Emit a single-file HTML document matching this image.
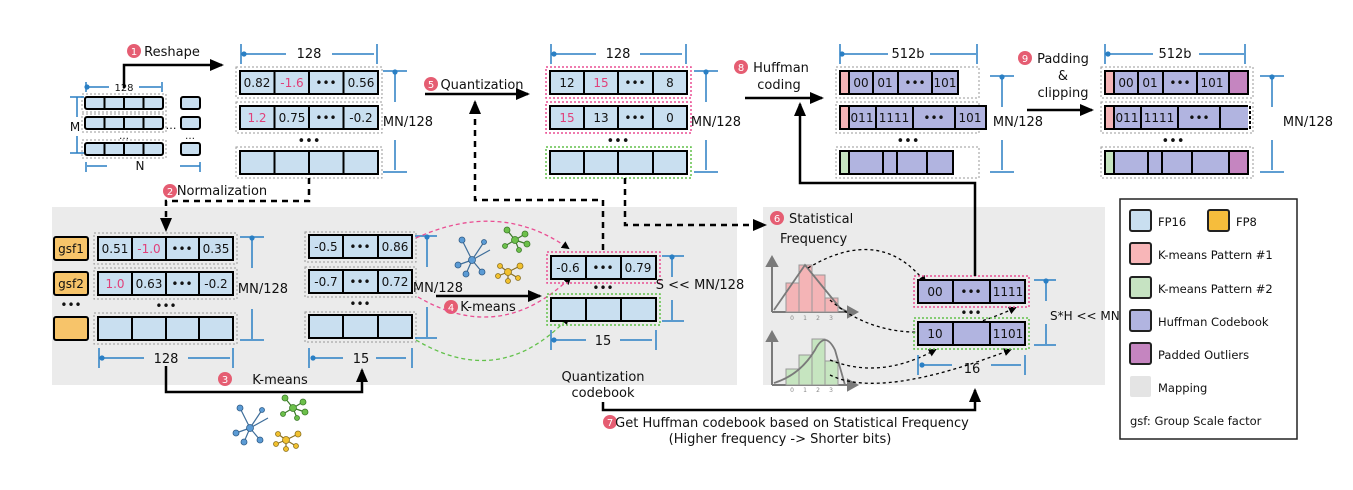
<!DOCTYPE html>
<html><head><meta charset="utf-8"><style>
html,body{margin:0;padding:0;background:#fff;}
svg{display:block;font-family:"DejaVu Sans","Liberation Sans",sans-serif;}
</style></head><body>
<svg width="1353" height="490" viewBox="0 0 1353 490" xmlns="http://www.w3.org/2000/svg">
<defs>
<marker id="ab" markerWidth="8" markerHeight="8" refX="6" refY="4" orient="auto" markerUnits="userSpaceOnUse"><path d="M0,0 L8,4 L0,8 z" fill="#000"/></marker>
<marker id="abs" markerWidth="14" markerHeight="12" refX="12" refY="6" orient="auto" markerUnits="userSpaceOnUse"><path d="M0,0 L14,6 L0,12 z" fill="#000"/></marker>
<marker id="dot" markerWidth="6" markerHeight="6" refX="3" refY="3" markerUnits="userSpaceOnUse"><circle cx="3" cy="3" r="2.6" fill="#2a7fc4"/></marker>
</defs>
<!-- panels -->
<rect x="52" y="207" width="685" height="178" fill="#ebebeb"/>
<rect x="763" y="207" width="342" height="178" fill="#ebebeb"/>

<g font-size="12" text-anchor="middle" fill="#111">
<!-- ===== small matrix ===== -->
<g stroke="#000" stroke-width="2" fill="#c9dff0">
<rect x="85" y="97" width="78" height="12" rx="2"/><rect x="85" y="117" width="78" height="12" rx="2"/><rect x="85" y="143" width="78" height="12" rx="2"/>
<rect x="181" y="97" width="19" height="12" rx="2"/><rect x="181" y="117" width="19" height="12" rx="2"/><rect x="181" y="143" width="19" height="12" rx="2"/>
<path d="M104.5,97v12M124,97v12M143.5,97v12M104.5,117v12M124,117v12M143.5,117v12M104.5,143v12M124,143v12M143.5,143v12" fill="none"/>
</g>
<g fill="none" stroke="#999" stroke-dasharray="2,2"><rect x="82" y="94" width="84" height="18"/><rect x="82" y="114" width="84" height="18"/><rect x="82" y="140" width="84" height="18"/></g>
<text x="124" y="91" font-size="10">128</text>
<g stroke="#2a7fc4" stroke-width="1.5"><path d="M87,87h22M139,87h22M86,82v10M162,82v10M70,97h14M70,153h14M77,97v20M77,136v17M87,166h20M180,166h20M86,162v10M200,162v10" fill="none" marker-start="url(#dot)"/></g>
<text x="75" y="131" font-size="12">M</text><text x="140" y="170" font-size="12">N</text>
<text x="171" y="129" font-size="11">…</text><text x="124" y="139" font-size="10">…</text><text x="190" y="139" font-size="10">…</text>

<!-- Reshape arrow -->
<path d="M124,88V65H222" fill="none" stroke="#000" stroke-width="2.5" marker-end="url(#abs)"/>
<circle cx="134" cy="51" r="7" fill="#e55d72"/><text x="134" y="55" font-size="10" fill="#fff">1</text>
<text x="172" y="56" font-size="13">Reshape</text>

<!-- ===== reshape rows ===== -->
<g fill="none" stroke="#999" stroke-dasharray="2,2"><rect x="236" y="67" width="146" height="31"/><rect x="236" y="102" width="146" height="31"/><rect x="236" y="147" width="146" height="31"/></g>
<g stroke="#000" stroke-width="2" fill="#c9dff0">
<rect x="240" y="71" width="138" height="23"/><rect x="240" y="106" width="138" height="23"/><rect x="240" y="151" width="138" height="23"/>
<path d="M274.5,71v23M309,71v23M343.5,71v23M274.5,106v23M309,106v23M343.5,106v23M274.5,151v23M309,151v23M343.5,151v23" fill="none"/>
</g>
<text x="257" y="87">0.82</text><text x="292" y="87" fill="#e0407a">-1.6</text><text x="326" y="87">•••</text><text x="361" y="87">0.56</text>
<text x="257" y="122" fill="#e0407a">1.2</text><text x="292" y="122">0.75</text><text x="326" y="122">•••</text><text x="361" y="122">-0.2</text>
<text x="309" y="145" font-size="13">•••</text>
<text x="309" y="58" font-size="13">128</text>
<g stroke="#2a7fc4" stroke-width="1.5" fill="none"><path d="M244,54h42M332,54h42" marker-start="url(#dot)"/><path d="M241,44v20M377,44v20M383,71h24M383,172h24"/><path d="M395,72v30M395,170v-30" marker-start="url(#dot)"/></g>
<text x="408" y="126" font-size="13">MN/128</text>

<!-- Normalization dashed -->
<path d="M309,178V201H166V230" fill="none" stroke="#000" stroke-width="2.5" stroke-dasharray="6,5" marker-end="url(#abs)"/>
<circle cx="170" cy="191" r="7" fill="#e55d72"/><text x="170" y="195" font-size="10" fill="#fff">2</text>
<text x="222" y="195" font-size="13">Normalization</text>

<!-- ===== gsf + normalized ===== -->
<g stroke="#000" stroke-width="2" fill="#f7c46a"><rect x="54" y="237" width="34" height="23" rx="2"/><rect x="54" y="272" width="34" height="23" rx="2"/><rect x="54" y="317" width="34" height="23" rx="2"/></g>
<text x="71" y="253">gsf1</text><text x="71" y="288">gsf2</text><text x="71" y="309" font-size="12">•••</text>
<g fill="none" stroke="#999" stroke-dasharray="2,2"><rect x="94" y="233" width="143" height="31"/><rect x="94" y="268" width="143" height="31"/><rect x="94" y="313" width="143" height="31"/></g>
<g stroke="#000" stroke-width="2" fill="#c9dff0">
<rect x="98" y="237" width="135" height="23"/><rect x="98" y="272" width="135" height="23"/><rect x="98" y="317" width="135" height="23"/>
<path d="M132,237v23M166,237v23M199,237v23M132,272v23M166,272v23M199,272v23M132,317v23M166,317v23M199,317v23" fill="none"/>
</g>
<text x="115" y="253">0.51</text><text x="149" y="253" fill="#e0407a">-1.0</text><text x="182" y="253">•••</text><text x="216" y="253">0.35</text>
<text x="115" y="288" fill="#e0407a">1.0</text><text x="149" y="288">0.63</text><text x="182" y="288">•••</text><text x="216" y="288">-0.2</text>
<text x="166" y="310" font-size="12">•••</text>
<text x="166" y="363" font-size="13">128</text>
<g stroke="#2a7fc4" stroke-width="1.5" fill="none"><path d="M102,358h42M188,358h42" marker-start="url(#dot)"/><path d="M99,348v20M233,348v20M240,237h24M240,340h24"/><path d="M252,238v30M252,339v-30" marker-start="url(#dot)"/></g>
<text x="263" y="293" font-size="13">MN/128</text>

<!-- 15-column rows -->
<g fill="none" stroke="#999" stroke-dasharray="2,2"><rect x="305" y="232" width="111" height="30"/><rect x="305" y="267" width="111" height="30"/><rect x="305" y="312" width="111" height="30"/></g>
<g stroke="#000" stroke-width="2" fill="#c9dff0">
<rect x="309" y="235" width="103" height="23"/><rect x="309" y="270" width="103" height="23"/><rect x="309" y="315" width="103" height="23"/>
<path d="M343,235v23M378,235v23M343,270v23M378,270v23M343,315v23M378,315v23" fill="none"/>
</g>
<text x="326" y="251">-0.5</text><text x="360" y="251">•••</text><text x="395" y="251">0.86</text>
<text x="326" y="286">-0.7</text><text x="360" y="286">•••</text><text x="395" y="286">0.72</text>
<text x="360" y="308" font-size="12">•••</text>
<text x="361" y="363" font-size="13">15</text>
<g stroke="#2a7fc4" stroke-width="1.5" fill="none"><path d="M313,358h30M406,358h-30" marker-start="url(#dot)"/><path d="M309,348v20M412,348v20M415,236h22M415,338h22"/><path d="M427,237v30M427,337v-30" marker-start="url(#dot)"/></g>
<text x="438" y="292" font-size="13">MN/128</text>

<!-- K-means 3 -->
<path d="M166,366V392H362V370" fill="none" stroke="#000" stroke-width="2.5" marker-end="url(#abs)"/>
<circle cx="225" cy="379" r="7" fill="#e55d72"/><text x="225" y="383" font-size="10" fill="#fff">3</text>
<text x="280" y="384" font-size="13">K-means</text>

<!-- K-means 4 arrow -->
<path d="M436,296H540" fill="none" stroke="#000" stroke-width="2.5" marker-end="url(#abs)"/>
<circle cx="451" cy="307" r="7" fill="#e55d72"/><text x="451" y="311" font-size="10" fill="#fff">4</text>
<text x="488" y="311" font-size="13">K-means</text>

<!-- mapping curves -->
<g fill="none" stroke-width="1.3" stroke-dasharray="4,3">
<path d="M416,238 Q500,200 568,248" stroke="#ea4f93" marker-end="url(#ab)"/>
<path d="M418,297 Q500,345 570,278" stroke="#ea4f93" marker-end="url(#ab)"/>
<path d="M416,340 Q500,390 568,318" stroke="#62c14a" marker-end="url(#ab)"/>
</g>

<!-- codebook -->
<rect x="547" y="252" width="113" height="31" fill="none" stroke="#ea4f93" stroke-width="1.5" stroke-dasharray="2,2"/>
<rect x="547" y="294" width="113" height="31" fill="none" stroke="#62c14a" stroke-width="1.5" stroke-dasharray="2,2"/>
<g stroke="#000" stroke-width="2" fill="#c9dff0">
<rect x="551" y="256" width="105" height="23"/><rect x="551" y="298" width="105" height="23"/>
<path d="M586,256v23M621,256v23M586,298v23M621,298v23" fill="none"/>
</g>
<text x="568" y="272">-0.6</text><text x="603" y="272">•••</text><text x="638" y="272">0.79</text>
<text x="603" y="292" font-size="12">•••</text>
<text x="603" y="345" font-size="13">15</text>
<g stroke="#2a7fc4" stroke-width="1.5" fill="none"><path d="M554,340h32M652,340h-32" marker-start="url(#dot)"/><path d="M551,330v20M656,330v20M662,256h22M662,321h22"/><path d="M672,257v20M672,320v-20" marker-start="url(#dot)"/></g>
<text x="700" y="289" font-size="13">S &lt;&lt; MN/128</text>
<text x="603" y="381" font-size="13">Quantization</text><text x="603" y="397" font-size="13">codebook</text>

<!-- dashed from codebook to quantization -->
<path d="M603,250V200H475V102" fill="none" stroke="#000" stroke-width="2.5" stroke-dasharray="6,5" marker-end="url(#abs)"/>
<path d="M425,94H528" fill="none" stroke="#000" stroke-width="2.5" marker-end="url(#abs)"/>
<circle cx="431" cy="84" r="7" fill="#e55d72"/><text x="431" y="88" font-size="10" fill="#fff">5</text>
<text x="482" y="89" font-size="13">Quantization</text>

<!-- quantized rows -->
<rect x="546" y="67" width="145" height="31" fill="none" stroke="#ea4f93" stroke-width="1.5" stroke-dasharray="2,2"/>
<rect x="546" y="102" width="145" height="31" fill="none" stroke="#ea4f93" stroke-width="1.5" stroke-dasharray="2,2"/>
<rect x="546" y="147" width="145" height="31" fill="none" stroke="#62c14a" stroke-width="1.5" stroke-dasharray="2,2"/>
<g stroke="#000" stroke-width="2" fill="#c9dff0">
<rect x="550" y="71" width="137" height="23"/><rect x="550" y="106" width="137" height="23"/><rect x="550" y="151" width="137" height="23"/>
<path d="M584,71v23M618,71v23M653,71v23M584,106v23M618,106v23M653,106v23M584,151v23M618,151v23M653,151v23" fill="none"/>
</g>
<text x="567" y="87">12</text><text x="601" y="87" fill="#e0407a">15</text><text x="635" y="87">•••</text><text x="670" y="87">8</text>
<text x="567" y="122" fill="#e0407a">15</text><text x="601" y="122">13</text><text x="635" y="122">•••</text><text x="670" y="122">0</text>
<text x="618" y="145" font-size="13">•••</text>
<text x="618" y="58" font-size="13">128</text>
<g stroke="#2a7fc4" stroke-width="1.5" fill="none"><path d="M554,54h42M682,54h-42" marker-start="url(#dot)"/><path d="M551,44v20M686,44v20M694,71h24M694,172h24"/><path d="M706,72v30M706,170v-30" marker-start="url(#dot)"/></g>
<text x="716" y="126" font-size="13">MN/128</text>

<!-- dashed to statistical freq -->
<path d="M625,178V225H765" fill="none" stroke="#000" stroke-width="2.5" stroke-dasharray="6,5" marker-end="url(#abs)"/>
<circle cx="777" cy="218" r="7" fill="#e55d72"/><text x="777" y="222" font-size="10" fill="#fff">6</text>
<text x="789" y="223" font-size="13" text-anchor="start">Statistical</text>
<text x="780" y="243" font-size="13" text-anchor="start">Frequency</text>

<!-- histograms -->
<g fill="none" stroke="#7a7a7a" stroke-width="2">
<path d="M772,312V258M772,312H855" /><path d="M767,266l5,-9 5,9z M848,307l9,5 -9,5z" fill="#7a7a7a"/>
<path d="M772,385V333M772,385H855"/><path d="M767,341l5,-9 5,9z M848,380l9,5 -9,5z" fill="#7a7a7a"/>
</g>
<g stroke="#999" stroke-width="1"><rect x="786" y="283" width="13" height="29" fill="#f4b4b6"/><rect x="799" y="265" width="13" height="47" fill="#f4b4b6"/><rect x="812" y="275" width="13" height="37" fill="#f4b4b6"/><rect x="825" y="298" width="13" height="14" fill="#f4b4b6"/>
<rect x="786" y="369" width="13" height="16" fill="#c6e5c0"/><rect x="799" y="355" width="13" height="30" fill="#c6e5c0"/><rect x="812" y="339" width="13" height="46" fill="#c6e5c0"/><rect x="825" y="361" width="13" height="24" fill="#c6e5c0"/></g>
<path d="M774,310 L805,265 L840,308 L850,313" fill="none" stroke="#7a7a7a" stroke-width="1.8"/>
<path d="M774,383 Q800,375 815,350 Q825,330 835,350 L845,385" fill="none" stroke="#7a7a7a" stroke-width="1.8"/>
<g font-size="6" fill="#888"><text x="792" y="320">0</text><text x="805" y="320">1</text><text x="818" y="320">2</text><text x="831" y="320">3</text><text x="792" y="392">0</text><text x="805" y="392">1</text><text x="818" y="392">2</text><text x="831" y="392">3</text></g>
<g fill="none" stroke="#000" stroke-width="1.3" stroke-dasharray="3,3">
<path d="M808,268 Q880,225 925,282" marker-end="url(#ab)"/>
<path d="M830,300 Q900,360 1015,308" marker-end="url(#ab)"/>
<path d="M830,360 Q880,380 935,350" marker-end="url(#ab)"/>
<path d="M830,375 Q880,400 1010,350" marker-end="url(#ab)"/>
</g>

<!-- huffman codebook -->
<rect x="914" y="276" width="115" height="31" fill="none" stroke="#ea4f93" stroke-width="1.5" stroke-dasharray="2,2"/>
<rect x="914" y="318" width="115" height="31" fill="none" stroke="#62c14a" stroke-width="1.5" stroke-dasharray="2,2"/>
<g stroke="#000" stroke-width="2" fill="#b1b4e0">
<rect x="918" y="280" width="107" height="23"/><rect x="918" y="322" width="107" height="23"/>
<path d="M953,280v23M990,280v23M953,322v23M990,322v23" fill="none"/>
</g>
<text x="935" y="296">00</text><text x="971" y="296">•••</text><text x="1008" y="296">1111</text>
<text x="935" y="338">10</text><text x="1008" y="338">1101</text>
<text x="971" y="317" font-size="12">•••</text>
<text x="972" y="373" font-size="13">16</text>
<g stroke="#2a7fc4" stroke-width="1.5" fill="none"><path d="M922,365h30M1021,365h-30" marker-start="url(#dot)"/><path d="M918,355v20M1025,355v20M1034,280h22M1034,345h22"/><path d="M1046,281v20M1046,344v-20" marker-start="url(#dot)"/></g>
<text x="1050" y="320" font-size="12" text-anchor="start">S*H &lt;&lt; MN/128</text>

<!-- 7 arrow -->
<path d="M603,402V410H975V390" fill="none" stroke="#000" stroke-width="2.5" marker-end="url(#abs)"/>
<circle cx="610" cy="422" r="7" fill="#e55d72"/><text x="610" y="426" font-size="10" fill="#fff">7</text>
<text x="792" y="427" font-size="13">Get Huffman codebook based on Statistical Frequency</text>
<text x="780" y="443" font-size="13">(Higher frequency -&gt; Shorter bits)</text>

<!-- 8 path -->
<path d="M975,276V183H800V104" fill="none" stroke="#000" stroke-width="2.5" marker-end="url(#abs)"/>
<path d="M745,98H822" fill="none" stroke="#000" stroke-width="2.5" marker-end="url(#abs)"/>
<circle cx="741" cy="67" r="7" fill="#e55d72"/><text x="741" y="71" font-size="10" fill="#fff">8</text>
<text x="781" y="72" font-size="13">Huffman</text><text x="779" y="89" font-size="13">coding</text>

<!-- huffman rows -->
<g fill="none" stroke="#999" stroke-dasharray="2,2"><rect x="836" y="67" width="143" height="31"/><rect x="836" y="102" width="143" height="31"/><rect x="836" y="147" width="143" height="31"/></g>
<g stroke="#000" stroke-width="2">
<rect x="840" y="71" width="118" height="23" fill="#b1b4e0"/><rect x="840" y="71" width="9" height="23" fill="#f4b4b6"/>
<path d="M873,71v23M898,71v23M932,71v23" fill="none"/>
<rect x="840" y="106" width="146" height="23" fill="#b1b4e0"/><rect x="840" y="106" width="9" height="23" fill="#f4b4b6"/>
<path d="M876,106v23M913,106v23M955,106v23" fill="none"/>
<rect x="840" y="151" width="113" height="23" fill="#b1b4e0"/><rect x="840" y="151" width="9" height="23" fill="#c6e5c0"/>
<path d="M883,151v23M897,151v23M927,151v23" fill="none"/>
</g>
<text x="861" y="87">00</text><text x="885" y="87">01</text><text x="915" y="87">•••</text><text x="945" y="87">101</text>
<text x="862" y="122">011</text><text x="894" y="122">1111</text><text x="934" y="122">•••</text><text x="970" y="122">101</text>
<text x="908" y="145" font-size="13">•••</text>
<text x="908" y="58" font-size="13">512b</text>
<g stroke="#2a7fc4" stroke-width="1.5" fill="none"><path d="M842,54h46M976,54h-46" marker-start="url(#dot)"/><path d="M840,44v20M977,44v20M990,76h24M990,172h24"/><path d="M1002,77v30M1002,170v-30" marker-start="url(#dot)"/></g>
<text x="1018" y="126" font-size="13">MN/128</text>

<!-- 9 -->
<circle cx="1025" cy="58" r="7" fill="#e55d72"/><text x="1025" y="62" font-size="10" fill="#fff">9</text>
<text x="1063" y="63" font-size="13">Padding</text><text x="1063" y="80" font-size="13">&amp;</text><text x="1063" y="97" font-size="13">clipping</text>
<path d="M1027,110H1092" fill="none" stroke="#000" stroke-width="2.5" marker-end="url(#abs)"/>

<!-- final rows -->
<g fill="none" stroke="#999" stroke-dasharray="2,2"><rect x="1101" y="67" width="152" height="31"/><rect x="1101" y="102" width="152" height="31"/><rect x="1101" y="147" width="152" height="31"/></g>
<g stroke="#000" stroke-width="2">
<rect x="1105" y="71" width="143" height="23" fill="#b1b4e0"/><rect x="1105" y="71" width="9" height="23" fill="#f4b4b6"/><rect x="1229" y="71" width="19" height="23" fill="#c585c0"/>
<path d="M1138,71v23M1163,71v23M1197,71v23" fill="none"/>
<path d="M1248,106H1105V129H1248" fill="#b1b4e0"/><rect x="1105" y="106" width="9" height="23" fill="#f4b4b6"/>
<path d="M1141,106v23M1178,106v23M1220,106v23" fill="none"/>
<rect x="1105" y="151" width="143" height="23" fill="#b1b4e0"/><rect x="1105" y="151" width="9" height="23" fill="#c6e5c0"/><rect x="1229" y="151" width="19" height="23" fill="#c585c0"/>
<path d="M1148,151v23M1162,151v23M1192,151v23" fill="none"/>
</g>
<path d="M1250,106v23" stroke="#000" stroke-width="2" stroke-dasharray="3,2"/>
<text x="1126" y="87">00</text><text x="1150" y="87">01</text><text x="1180" y="87">•••</text><text x="1212" y="87">101</text>
<text x="1127" y="122">011</text><text x="1159" y="122">1111</text><text x="1199" y="122">•••</text>
<text x="1173" y="145" font-size="13">•••</text>
<text x="1175" y="58" font-size="13">512b</text>
<g stroke="#2a7fc4" stroke-width="1.5" fill="none"><path d="M1108,54h45M1244,54h-45" marker-start="url(#dot)"/><path d="M1105,44v20M1245,44v20M1260,76h24M1260,172h24"/><path d="M1272,77v30M1272,170v-30" marker-start="url(#dot)"/></g>
<text x="1308" y="126" font-size="13">MN/128</text>
</g>

<!-- cluster icons -->
<g id="cl">
<g stroke="#3f6e9a" stroke-width="1.2"><path d="M472,260l-10,-20M472,260l-14,5M472,260l-6,14M472,260l10,12M472,260l18,-10M472,260l12,-18"/></g>
<g fill="#5b9bd5" stroke="#2f5b86" stroke-width="0.8"><circle cx="472" cy="260" r="3.5"/><circle cx="462" cy="240" r="3"/><circle cx="458" cy="265" r="3"/><circle cx="466" cy="274" r="3"/><circle cx="482" cy="272" r="3"/><circle cx="484" cy="242" r="2.5"/></g>
<g stroke="#3c7a2a" stroke-width="1.2"><path d="M515,240l-8,-10M515,240l10,-6M515,240l12,4M515,240l4,10M515,240l-10,6"/></g>
<g fill="#6cc04a" stroke="#3c7a2a" stroke-width="0.8"><circle cx="515" cy="240" r="3.5"/><circle cx="507" cy="230" r="3"/><circle cx="525" cy="234" r="3"/><circle cx="527" cy="244" r="3"/><circle cx="519" cy="250" r="2.5"/><circle cx="505" cy="246" r="2.5"/></g>
<g stroke="#8a7020" stroke-width="1.2"><path d="M508,272l-8,-6M508,272l-10,4M508,272l12,-6M508,272l10,6M508,272l0,9"/></g>
<g fill="#f2c12e" stroke="#8a7020" stroke-width="0.8"><circle cx="508" cy="272" r="3.5"/><circle cx="500" cy="266" r="2.5"/><circle cx="498" cy="276" r="2.5"/><circle cx="520" cy="266" r="3"/><circle cx="518" cy="278" r="2.5"/><circle cx="508" cy="281" r="2.5"/></g>
</g>
<use href="#cl" transform="translate(-222,168)"/>

<!-- legend -->
<rect x="1120" y="199" width="177" height="240" fill="#fff" stroke="#222" stroke-width="1.5"/>
<g stroke="#222" stroke-width="2">
<rect x="1130" y="210" width="21" height="21" rx="2" fill="#c9dff0"/><rect x="1208" y="210" width="21" height="21" rx="2" fill="#f6bd3c"/>
<rect x="1130" y="243" width="21" height="21" rx="2" fill="#f8b6b8"/>
<rect x="1130" y="277" width="21" height="21" rx="2" fill="#c6e3c2"/>
<rect x="1130" y="310" width="21" height="21" rx="2" fill="#b1b4e0"/>
<rect x="1130" y="343" width="21" height="21" rx="2" fill="#c585c0"/>
</g>
<rect x="1130" y="376" width="21" height="21" rx="2" fill="#e4e4e4"/>
<g font-size="11.5" fill="#111">
<text x="1158" y="226">FP16</text><text x="1236" y="226">FP8</text>
<text x="1158" y="259">K-means Pattern #1</text>
<text x="1158" y="293">K-means Pattern #2</text>
<text x="1158" y="326">Huffman Codebook</text>
<text x="1158" y="359">Padded Outliers</text>
<text x="1158" y="392">Mapping</text>
<text x="1130" y="425">gsf: Group Scale factor</text>
</g>
</svg>
</body></html>
